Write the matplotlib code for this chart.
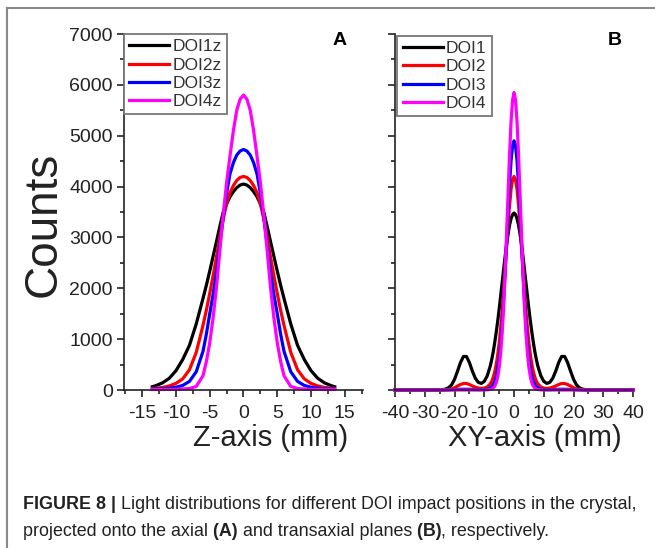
import matplotlib
matplotlib.use("Agg")
import matplotlib.pyplot as plt
from matplotlib.lines import Line2D
from matplotlib.ticker import MultipleLocator

plt.rcParams["font.family"] = ["Liberation Sans", "DejaVu Sans"]

# panel A: light distribution along z (axial)
z_mm = [-13.5, -13, -12, -11, -10, -9, -8, -7, -6, -5.5, -5, -4.5, -4, -3.5, -3, -2.5, -2, -1.5, -1, -0.5,
        0, 0.5, 1, 1.5, 2, 2.5, 3, 3.5, 4, 4.5, 5, 5.5, 6, 7, 8, 9, 10, 11, 12, 13, 13.5]
doi1z = [65, 85, 140, 230, 380, 600, 880, 1300, 1800, 2060, 2340, 2630, 2920, 3220, 3500, 3660, 3800, 3900, 3980, 4030,
         4050, 4030, 3980, 3900, 3800, 3660, 3500, 3220, 2920, 2630, 2340, 2060, 1800, 1300, 880, 600, 380, 230, 140, 85, 65]
doi2z = [30, 35, 50, 80, 130, 220, 400, 740, 1270, 1570, 1900, 2250, 2620, 3010, 3370, 3660, 3880, 4020, 4120, 4180,
         4200, 4180, 4120, 4020, 3880, 3660, 3370, 3010, 2620, 2250, 1900, 1570, 1270, 740, 400, 220, 130, 80, 50, 35, 30]
doi3z = [18, 20, 25, 35, 55, 90, 170, 360, 760, 1100, 1500, 1880, 2330, 2860, 3400, 3870, 4250, 4470, 4620, 4700,
         4730, 4700, 4620, 4470, 4250, 3870, 3400, 2860, 2330, 1880, 1500, 1100, 760, 360, 170, 90, 55, 35, 25, 20, 18]
doi4z = [10, 10, 10, 12, 15, 20, 30, 70, 280, 560, 930, 1420, 2020, 2750, 3450, 4080, 4600, 5100, 5500, 5720,
         5800, 5720, 5500, 5100, 4600, 4080, 3450, 2750, 2020, 1420, 930, 560, 280, 70, 30, 20, 15, 12, 10, 10, 10]

# panel B: light distribution along xy (transaxial)
xy_mm = [-40, -35, -30, -28, -26, -25, -24, -23, -22, -21, -20, -19, -18, -17, -16, -15, -14, -13, -12, -11,
         -10, -9, -8, -7.5, -7, -6.5, -6, -5.5, -5, -4.5, -4, -3.5, -3, -2.5, -2, -1.5, -1, -0.5,
         0, 0.5, 1, 1.5, 2, 2.5, 3, 3.5, 4, 4.5, 5, 5.5, 6, 6.5, 7, 7.5, 8, 9, 10,
         11, 12, 13, 14, 15, 16, 17, 18, 19, 20, 21, 22, 23, 24, 25, 26, 28, 30, 35, 40]
doi1 = [0, 0, 0, 0, 1, 3, 8, 18, 45, 100, 210, 370, 540, 660, 660, 540, 370, 230, 150, 130,
        170, 280, 470, 600, 750, 930, 1130, 1350, 1590, 1850, 2110, 2370, 2630, 2860, 3070, 3245, 3370, 3450,
        3480, 3450, 3370, 3245, 3070, 2860, 2630, 2370, 2110, 1850, 1590, 1350, 1130, 930, 750, 600, 470, 280, 170,
        130, 150, 230, 370, 540, 660, 660, 540, 370, 210, 100, 45, 18, 8, 3, 1, 0, 0, 0, 0]
doi2 = [0, 0, 0, 0, 0, 1, 2, 4, 10, 22, 45, 78, 108, 128, 128, 108, 80, 55, 38, 32,
        38, 60, 120, 170, 250, 355, 500, 690, 920, 1220, 1560, 1920, 2400, 2820, 3280, 3640, 3950, 4130,
        4200, 4130, 3950, 3640, 3280, 2820, 2400, 1920, 1560, 1220, 920, 690, 500, 355, 250, 170, 120, 60, 38,
        32, 38, 55, 80, 108, 128, 128, 108, 78, 45, 22, 10, 4, 2, 1, 0, 0, 0, 0, 0]
doi3 = [0, 0, 0, 0, 0, 0, 0, 1, 2, 5, 8, 12, 14, 15, 15, 14, 12, 10, 8, 8,
        10, 18, 40, 65, 100, 165, 260, 420, 620, 900, 1290, 1765, 2300, 2910, 3500, 4060, 4510, 4800,
        4900, 4800, 4510, 4060, 3500, 2910, 2300, 1765, 1290, 900, 620, 420, 260, 165, 100, 65, 40, 18, 10,
        8, 8, 10, 12, 14, 15, 15, 14, 12, 8, 5, 2, 1, 0, 0, 0, 0, 0, 0, 0]
doi4 = [0, 0, 0, 0, 0, 0, 0, 0, 0, 0, 0, 0, 0, 0, 0, 0, 0, 0, 0, 0,
        0, 3, 10, 18, 40, 74, 140, 257, 440, 720, 1120, 1650, 2310, 3070, 3870, 4640, 5280, 5700,
        5850, 5700, 5280, 4640, 3870, 3070, 2310, 1650, 1120, 720, 440, 257, 140, 74, 40, 18, 10, 3, 0,
        0, 0, 0, 0, 0, 0, 0, 0, 0, 0, 0, 0, 0, 0, 0, 0, 0, 0, 0, 0]

colors = ["#000000", "#ff0000", "#0000ff", "#ff00ff"]
labels_a = ["DOI1z", "DOI2z", "DOI3z", "DOI4z"]
labels_b = ["DOI1", "DOI2", "DOI3", "DOI4"]

fig = plt.figure(figsize=(6.55, 5.48), dpi=100)
axA = fig.add_axes([0.1893, 0.2883, 0.3649, 0.6496])
axB = fig.add_axes([0.6031, 0.2883, 0.3634, 0.6496])

for y, c, lab in zip([doi1z, doi2z, doi3z, doi4z], colors, labels_a):
    axA.plot(z_mm, y, color=c, lw=2.3, label=lab, clip_on=False)
for y, c, lab in zip([doi1, doi2, doi3, doi4], colors, labels_b):
    axB.plot(xy_mm, y, color=c, lw=2.3, label=lab, clip_on=False)

axA.set_xlim(-17.7, 17.7)
axB.set_xlim(-40, 40)
axA.xaxis.set_minor_locator(MultipleLocator(2.5))
axB.xaxis.set_minor_locator(MultipleLocator(5))

for ax in (axA, axB):
    ax.set_ylim(0, 7000)
    ax.yaxis.set_major_locator(MultipleLocator(1000))
    ax.yaxis.set_minor_locator(MultipleLocator(500))
    ax.spines["top"].set_visible(False)
    ax.spines["right"].set_visible(False)
    for s in ("left", "bottom"):
        ax.spines[s].set_linewidth(1.2)
        ax.spines[s].set_color("#222222")
    ax.tick_params(which="major", direction="out", length=5, width=1.2, labelsize=14,
                   colors="#222222", pad=3)
    ax.tick_params(which="minor", direction="out", length=3, width=1.2, colors="#222222")
    ax.tick_params(axis="x", which="major", pad=6)

axB.tick_params(axis="y", labelleft=False)
axA.set_xticks([-15, -10, -5, 0, 5, 10, 15])
axA.set_xticklabels(["-15", "-10", "-5", "0", "5", "10", "15"])
axB.set_xticks([-40, -30, -20, -10, 0, 10, 20, 30, 40])
axB.set_xticklabels(["-40", "-30", "-20", "-10", "0", "10", "20", "30", "40"])

fig.text(271 / 655, 1 - 438 / 548, "Z-axis (mm)", fontsize=21, ha="center", va="center",
         color="#222222")
fig.text(535 / 655, 1 - 438 / 548, "XY-axis (mm)", fontsize=21, ha="center", va="center",
         color="#222222")
fig.text(44 / 655, 1 - 224 / 548, "Counts", rotation=90, fontsize=33,
         ha="center", va="center", color="#222222")

leg_kw = dict(loc="upper left", borderaxespad=0, fontsize=12.5, handlelength=2.3,
              handletextpad=0.2, borderpad=0.3, labelspacing=0.18, fancybox=False, framealpha=1)
legA = axA.legend(bbox_to_anchor=(0.0, 1.0), **leg_kw)
legB = axB.legend(bbox_to_anchor=(0.01, 0.995), **leg_kw)
for leg in (legA, legB):
    leg.get_frame().set_edgecolor("#777777")
    leg.get_frame().set_linewidth(1.3)
    for t in leg.get_texts():
        t.set_color("#333333")

axA.text(0.904, 0.983, "A", transform=axA.transAxes, fontsize=14, fontweight="bold",
         ha="center", va="center")
axB.text(0.924, 0.983, "B", transform=axB.transAxes, fontsize=14, fontweight="bold",
         ha="center", va="center")

# outer frame of the figure panel
fig.add_artist(Line2D([7 / 655, 1], [1 - 8 / 548, 1 - 8 / 548], transform=fig.transFigure,
                      color="#888888", lw=1.5))
fig.add_artist(Line2D([7 / 655, 7 / 655], [0, 1 - 8 / 548], transform=fig.transFigure,
                      color="#888888", lw=1.5))

# caption, mixed bold / regular
renderer = fig.canvas.get_renderer()


def caption_line(parts, x0, y0):
    x = x0
    for txt, w in parts:
        t = fig.text(x, y0, txt, fontsize=12.9, fontweight=w, va="baseline", ha="left",
                     color="#222222")
        bb = t.get_window_extent(renderer=renderer)
        x = bb.x1 / fig.bbox.width


caption_line([("FIGURE 8 |", "bold"),
              (" Light distributions for different DOI impact positions in the crystal,", "normal")],
             23 / 655, 1 - 509 / 548)
caption_line([("projected onto the axial", "normal"), (" (A)", "bold"),
              (" and transaxial planes", "normal"), (" (B)", "bold"), (", respectively.", "normal")],
             23 / 655, 1 - 536 / 548)

fig.savefig("out.png", dpi=100)
